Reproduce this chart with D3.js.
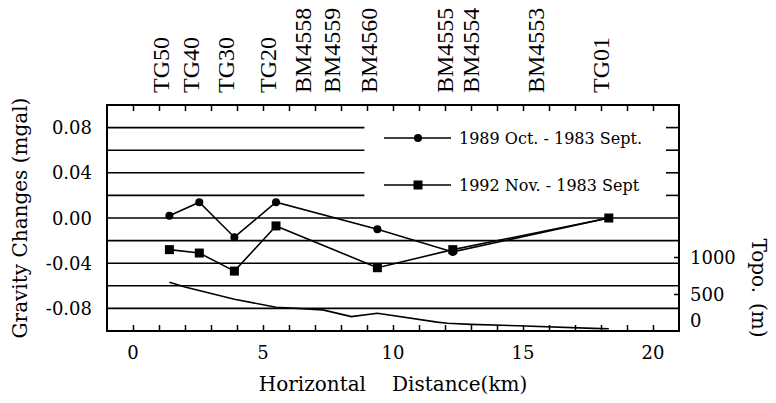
<!DOCTYPE html>
<html>
<head>
<meta charset="utf-8">
<script src="https://cdn.jsdelivr.net/npm/d3@7"></script>
<style>
  body { margin: 0; background: #fff; }
  svg { display: block; }
</style>
</head>
<body>
<div id="gravity_chart"></div>
<script>
// station names along the top and their distances (km)
var stations = ["TG50", "TG40", "TG30", "TG20", "BM4558", "BM4559", "BM4560", "BM4555", "BM4554", "BM4553", "TG01"];
var stationDist = [1.4, 2.55, 3.9, 5.5, 6.85, 7.95, 9.4, 12.3, 13.3, 15.8, 18.3];

// measured points (km) and gravity changes (mgal)
var pointDist = [1.4, 2.55, 3.9, 5.5, 9.4, 12.3, 18.3];
var change1989 = [0.002, 0.014, -0.017, 0.014, -0.010, -0.030, 0.000];
var change1992 = [-0.028, -0.031, -0.047, -0.007, -0.044, -0.028, 0.000];

// topography profile (km, m)
var topoDist = [1.4, 2.0, 3.9, 5.5, 7.3, 8.4, 9.4, 11.7, 12.1, 13.0, 14.8, 17.7, 18.3];
var topoHeight = [660, 595, 430, 320, 285, 195, 240, 120, 105, 90, 70, 36, 30];

// ticks
var xTicks = [0, 5, 10, 15, 20];
var yTicks = [0.08, 0.04, 0.00, -0.04, -0.08];
var gridValues = [0.08, 0.06, 0.04, 0.02, 0.00, -0.02, -0.04, -0.06, -0.08];
var topoTicks = [1000, 500, 0];

var legendNames = ["1989 Oct. - 1983 Sept.", "1992 Nov. - 1983 Sept"];

var W = 776, H = 403;
var box = {left: 107, right: 679, top: 105, bottom: 331};

var svg = d3.select("#gravity_chart")
  .append("svg")
  .attr("width", W)
  .attr("height", H);

// ---------------------------//
//       SCALES               //
// ---------------------------//
var x = d3.scaleLinear().domain([-1, 21]).range([box.left, box.right]);
var y = d3.scaleLinear().domain([-0.1, 0.1]).range([box.bottom, box.top]);
var yTopo = d3.scaleLinear().domain([0, 1000]).range([box.bottom, box.bottom - 74]);

var serif = "'DejaVu Serif', serif";
var fmt = function(d) { return d3.format(".2f")(d).replace("\u2212", "-"); };

// ---------------------------//
//       GRID LINES           //
// ---------------------------//
// upper lines are broken where the legend sits
gridValues.forEach(function(v) {
  var segs = v > 0.001 ? [[-1, 8.9], [20.5, 21]] : [[-1, 21]];
  segs.forEach(function(s) {
    svg.append("line")
      .attr("x1", x(s[0])).attr("x2", x(s[1]))
      .attr("y1", y(v)).attr("y2", y(v))
      .attr("stroke", "#000")
      .attr("stroke-width", 1.6);
  });
});

// frame
svg.append("rect")
  .attr("x", box.left).attr("y", box.top)
  .attr("width", box.right - box.left)
  .attr("height", box.bottom - box.top)
  .attr("fill", "none")
  .attr("stroke", "#000")
  .attr("stroke-width", 2);

// bottom + top minor ticks every km
svg.append("g")
  .attr("transform", "translate(0," + box.bottom + ")")
  .call(d3.axisBottom(x).tickValues(d3.range(0, 21)).tickSize(-6).tickFormat(""))
  .call(function(g) { g.select(".domain").remove(); })
  .selectAll("line").attr("stroke-width", 1.5);

svg.append("g")
  .attr("transform", "translate(0," + box.top + ")")
  .call(d3.axisTop(x).tickValues(d3.range(0, 21)).tickSize(-6).tickFormat(""))
  .call(function(g) { g.select(".domain").remove(); })
  .selectAll("line").attr("stroke-width", 1.5);

// right topo ticks
svg.append("g")
  .attr("transform", "translate(" + box.right + ",0)")
  .call(d3.axisRight(yTopo).tickValues([1000, 500]).tickSize(-5).tickFormat(""))
  .call(function(g) { g.select(".domain").remove(); })
  .selectAll("line").attr("stroke-width", 1.5);

// ---------------------------//
//       TICK LABELS          //
// ---------------------------//
svg.selectAll("xlab")
  .data(xTicks)
  .enter()
  .append("text")
    .attr("x", function(d) { return x(d); })
    .attr("y", 359)
    .attr("text-anchor", "middle")
    .style("font-family", serif)
    .style("font-size", "18px")
    .text(function(d) { return d; });

svg.selectAll("ylab")
  .data(yTicks)
  .enter()
  .append("text")
    .attr("x", 92)
    .attr("y", function(d) { return y(d) + 6.5; })
    .attr("text-anchor", "end")
    .style("font-family", serif)
    .style("font-size", "18px")
    .text(fmt);

svg.selectAll("topolab")
  .data(topoTicks)
  .enter()
  .append("text")
    .attr("x", 690)
    .attr("y", function(d) { return yTopo(d) + (d == 0 ? -4 : 6.5); })
    .attr("text-anchor", "start")
    .style("font-family", serif)
    .style("font-size", "18px")
    .text(function(d) { return d; });

// ---------------------------//
//       AXIS TITLES          //
// ---------------------------//
var xTitle = svg.append("text")
  .attr("x", (box.left + box.right) / 2)
  .attr("y", 391)
  .attr("text-anchor", "middle")
  .style("font-family", serif)
  .style("font-size", "20px");
xTitle.append("tspan").text("Horizontal");
xTitle.append("tspan").attr("dx", 26).text("Distance(km)");

svg.append("text")
  .attr("transform", "translate(27," + ((box.top + box.bottom) / 2) + ") rotate(-90)")
  .attr("text-anchor", "middle")
  .style("font-family", serif)
  .style("font-size", "20px")
  .text("Gravity Changes (mgal)");

var topoTitle = svg.append("text")
  .attr("transform", "translate(752,288) rotate(90)")
  .attr("text-anchor", "middle")
  .style("font-family", serif)
  .style("font-size", "20px");
topoTitle.append("tspan").text("Topo.");
topoTitle.append("tspan").attr("dx", 10).text("(m)");

// station names
svg.selectAll("stations")
  .data(stations)
  .enter()
  .append("text")
    .attr("transform", function(d, i) { return "translate(" + x(stationDist[i]) + ",93) rotate(-90)"; })
    .attr("text-anchor", "start")
    .style("font-family", "'Liberation Serif', serif")
    .style("font-size", "24px")
    .text(function(d) { return d; });

// ---------------------------//
//       LINES + MARKERS      //
// ---------------------------//
var topoLine = d3.line()
  .x(function(d, i) { return x(topoDist[i]); })
  .y(function(d) { return yTopo(d); });

svg.append("path")
  .datum(topoHeight)
  .attr("d", topoLine)
  .attr("fill", "none")
  .attr("stroke", "#000")
  .attr("stroke-width", 1.6);

var changeLine = d3.line()
  .x(function(d, i) { return x(pointDist[i]); })
  .y(function(d) { return y(d); });

[change1992, change1989].forEach(function(series) {
  svg.append("path")
    .datum(series)
    .attr("d", changeLine)
    .attr("fill", "none")
    .attr("stroke", "#000")
    .attr("stroke-width", 1.6);
});

svg.selectAll("sq")
  .data(change1992)
  .enter()
  .append("rect")
    .attr("x", function(d, i) { return x(pointDist[i]) - 4.5; })
    .attr("y", function(d) { return y(d) - 4.5; })
    .attr("width", 9)
    .attr("height", 9)
    .attr("fill", "#000");

svg.selectAll("dot")
  .data(change1989)
  .enter()
  .append("circle")
    .attr("cx", function(d, i) { return x(pointDist[i]); })
    .attr("cy", function(d) { return y(d); })
    .attr("r", 4)
    .attr("fill", "#000");

// ---------------------------//
//       LEGEND               //
// ---------------------------//
var legY = [138, 185];
legendNames.forEach(function(name, i) {
  svg.append("line")
    .attr("x1", 384).attr("x2", 451)
    .attr("y1", legY[i]).attr("y2", legY[i])
    .attr("stroke", "#000")
    .attr("stroke-width", 1.6);
  if (i == 0) {
    svg.append("circle").attr("cx", 418).attr("cy", legY[i]).attr("r", 4).attr("fill", "#000");
  } else {
    svg.append("rect").attr("x", 413.5).attr("y", legY[i] - 4.5).attr("width", 9).attr("height", 9).attr("fill", "#000");
  }
  svg.append("text")
    .attr("x", 459)
    .attr("y", legY[i] + 5.5)
    .style("font-family", serif)
    .style("font-size", "16px")
    .text(name);
});
</script>
</body>
</html>
